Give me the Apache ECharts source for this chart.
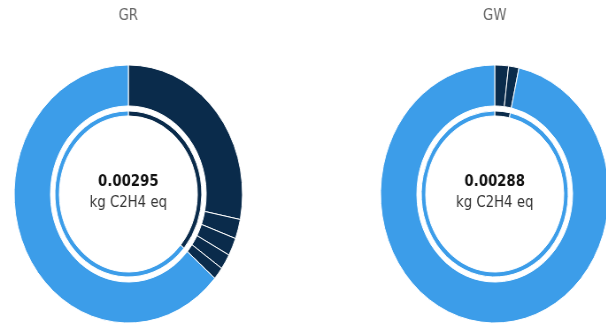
<!DOCTYPE html>
<html>
<head>
<meta charset="utf-8">
<script src="https://cdn.jsdelivr.net/npm/echarts@6/dist/echarts.min.js"></script>
<style>
  html, body { margin: 0; padding: 0; background: #fff; overflow: hidden; }
  /* the reference is squeezed horizontally, so the chart is drawn wider and scaled down */
  #chart { width: 685px; height: 328px; transform: scaleX(0.885); transform-origin: 0 0; }
</style>
</head>
<body>
<div id="chart"></div>
<script>
var DARK = '#0a2b4b'
var LIGHT = '#3c9de9'

// GR : contributions (kg C2H4 eq)
var grNames = ['GR-1', 'GR-2', 'GR-3', 'GR-4', 'GR-5', 'GR-other']
var grValues = [0.000831, 0.000072, 0.000066, 0.000057, 0.000046, 0.001878]
var grInner = [0.001072, 0.001878]
var grTotal = '0.00295'

// GW
var gwNames = ['GW-1', 'GW-2', 'GW-other']
var gwValues = [0.000056, 0.000042, 0.002782]
var gwInner = [0.000098, 0.002782]
var gwTotal = '0.00288'

var unit = 'kg C2H4 eq'
var titles = ['GR', 'GW']

var centers = [145, 559]
var cy = 194

function outerData (names, values) {
  return values.map(function (v, i) {
    return {
      name: names[i],
      value: v,
      itemStyle: { color: i === values.length - 1 ? LIGHT : DARK }
    }
  })
}

function innerData (values) {
  return values.map(function (v, i) {
    return { name: i === 0 ? 'dark' : 'light', value: v, itemStyle: { color: i === 0 ? DARK : LIGHT } }
  })
}

function ring (cx, data, radius) {
  return {
    type: 'pie',
    center: [cx, cy],
    radius: radius,
    startAngle: 90,
    clockwise: true,
    silent: true,
    label: { show: false },
    labelLine: { show: false },
    itemStyle: { borderColor: '#fff', borderWidth: 1, borderRadius: 1 },
    data: data
  }
}

var textStyle = { fontFamily: 'DejaVu Sans', fill: '#222', align: 'center', verticalAlign: 'middle' }

function texts (cx, title, total) {
  return [
    { type: 'text', x: cx, y: 16, style: Object.assign({}, textStyle, { text: title, fontSize: 15, fill: '#666' }) },
    { type: 'text', x: cx, y: 182, style: Object.assign({}, textStyle, { text: total, fontSize: 15, fontWeight: 'bold', fill: '#111' }) },
    { type: 'text', x: cx, y: 203, style: Object.assign({}, textStyle, { text: unit, fontSize: 15, fill: '#333' }) }
  ]
}

var option = {
  animation: false,
  series: [
    ring(centers[0], outerData(grNames, grValues), [88, 129]),
    ring(centers[0], innerData(grInner), [78, 83]),
    ring(centers[1], outerData(gwNames, gwValues), [88, 129]),
    ring(centers[1], innerData(gwInner), [78, 83])
  ],
  graphic: texts(centers[0], titles[0], grTotal).concat(texts(centers[1], titles[1], gwTotal))
}

echarts.init(document.getElementById('chart')).setOption(option)
</script>
</body>
</html>
